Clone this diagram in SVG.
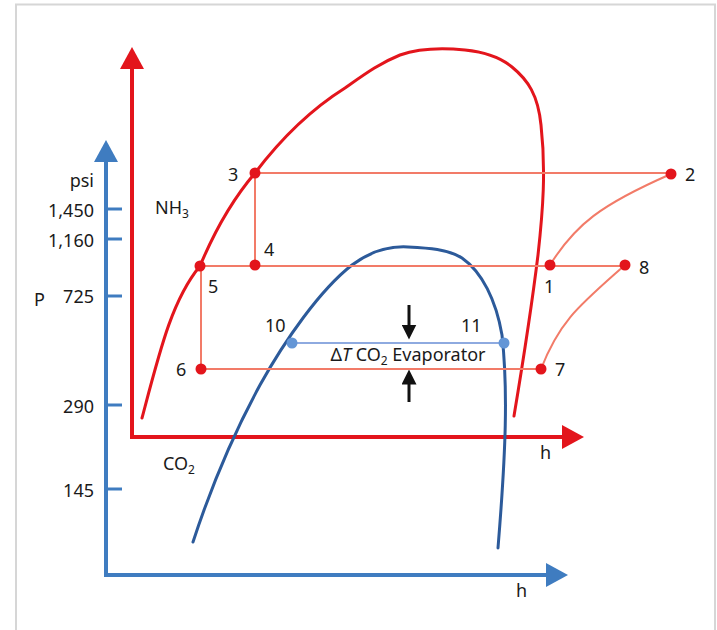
<svg xmlns="http://www.w3.org/2000/svg" width="717" height="630" viewBox="0 0 717 630">
<style>
text{font-family:"Noto Sans","Open Sans",sans-serif;font-size:18px;fill:#1a1a1a}
.ax{fill:none;stroke-width:4}
.red{stroke:#e3151c}
.blue{stroke:#3f7cc0}
.cyc{fill:none;stroke:#f27b68;stroke-width:2}
.dome{fill:none;stroke-width:3;stroke-linecap:round}
.tick{stroke:#3f7cc0;stroke-width:3}
.rdot{fill:#e3151c}
.bdot{fill:#6496d6}
</style>
<defs>
<marker id="ar" markerWidth="6" markerHeight="6" refX="1" refY="3" orient="auto" markerUnits="strokeWidth"><path d="M0,0 L5.5,3 L0,6 Z" fill="#e3151c"/></marker>
<marker id="ab" markerWidth="6" markerHeight="6" refX="1" refY="3" orient="auto" markerUnits="strokeWidth"><path d="M0,0 L5.5,3 L0,6 Z" fill="#3f7cc0"/></marker>
<marker id="ak" markerWidth="5" markerHeight="5" refX="0.5" refY="2.5" orient="auto" markerUnits="strokeWidth"><path d="M0,0 L5,2.5 L0,5 Z" fill="#111"/></marker>
</defs>
<rect x="16" y="4.5" width="699" height="640" fill="#fff" stroke="#d6d6d6" stroke-width="2"/>

<g id="co2-axes">
<path class="ax blue" d="M106,575 V158" marker-end="url(#ab)"/>
<path class="ax blue" d="M104,575 H550" marker-end="url(#ab)"/>
<line class="tick" x1="106" y1="209" x2="122" y2="209"/>
<line class="tick" x1="106" y1="239" x2="122" y2="239"/>
<line class="tick" x1="106" y1="296" x2="122" y2="296"/>
<line class="tick" x1="106" y1="405" x2="122" y2="405"/>
<line class="tick" x1="106" y1="489" x2="122" y2="489"/>
<text x="94" y="187" text-anchor="end">psi</text>
<text x="94" y="217" text-anchor="end">1,450</text>
<text x="94" y="247" text-anchor="end">1,160</text>
<text x="94" y="303" text-anchor="end">725</text>
<text x="94" y="413" text-anchor="end">290</text>
<text x="94" y="497" text-anchor="end">145</text>
<text x="34" y="306">P</text>
<text x="516" y="597">h</text>
<text x="163" y="470">CO<tspan font-size="12" dy="4">2</tspan></text>
</g>

<g id="nh3-axes">
<path class="ax red" d="M132,439 V65" marker-end="url(#ar)"/>
<path class="ax red" d="M130,437 H566" marker-end="url(#ar)"/>
<text x="540" y="459">h</text>
<text x="155" y="214">NH<tspan font-size="12" dy="4">3</tspan></text>
</g>

<g id="co2-dome">
<path class="dome" stroke="#2c5a9a" stroke-width="2.2" d="M193,542 C210,490 230,440 260,385 C285,340 320,290 352,265 C372,250 390,246 408,247 C428,248 448,249 462,258 C482,272 496,300 502,335 C508,390 506,450 498,548"/>
</g>

<g id="nh3-dome">
<path class="dome" stroke="#e3151c" d="M142,418 C160,350 172,300 200,266 C215,230 232,200 255,173 C280,140 310,110 345,88 C365,74 380,63 400,55 C420,48 445,48 465,50 C485,52 500,57 512,67 C528,80 538,95 541,125 C546,170 543,210 538,255 C530,320 520,380 514,416"/>
</g>

<g id="connectors">
<path class="cyc" d="M255,173 H671"/>
<path class="cyc" d="M255,173 V265"/>
<path class="cyc" d="M200,266 H625"/>
<path class="cyc" d="M201,266 V369"/>
<path class="cyc" d="M201,369 H541"/>
<path class="cyc" d="M550,265 C575,225 600,205 671,174"/>
<path class="cyc" d="M541,369 C560,320 580,305 625,265"/>
<path fill="none" stroke="#8eaae0" stroke-width="2" d="M292,343 H504"/>
<path fill="none" stroke="#111" stroke-width="3" d="M409,305 V326" marker-end="url(#ak)"/>
<path fill="none" stroke="#111" stroke-width="3" d="M409,402 V383" marker-end="url(#ak)"/>
</g>

<g id="p1"><circle class="rdot" cx="550" cy="265" r="5.5"/><text x="544" y="293">1</text></g>
<g id="p2"><circle class="rdot" cx="671" cy="174" r="5.5"/><text x="685" y="181">2</text></g>
<g id="p3"><circle class="rdot" cx="255" cy="173" r="5.5"/><text x="228" y="181">3</text></g>
<g id="p4"><circle class="rdot" cx="255" cy="265" r="5.5"/><text x="264" y="256">4</text></g>
<g id="p5"><circle class="rdot" cx="200" cy="266" r="5.5"/><text x="208" y="293">5</text></g>
<g id="p6"><circle class="rdot" cx="201" cy="369" r="5.5"/><text x="176" y="376">6</text></g>
<g id="p7"><circle class="rdot" cx="541" cy="369" r="5.5"/><text x="555" y="376">7</text></g>
<g id="p8"><circle class="rdot" cx="625" cy="265" r="5.5"/><text x="639" y="274">8</text></g>
<g id="p10"><circle class="bdot" cx="292" cy="343" r="5.5"/><text x="265" y="332">10</text></g>
<g id="p11"><circle class="bdot" cx="504" cy="343" r="5.5"/><text x="461" y="332">11</text></g>
<g id="label-dt"><text x="408" y="361" text-anchor="middle">Δ<tspan font-style="italic">T</tspan><tspan> CO</tspan><tspan font-size="12" dy="4">2</tspan><tspan dy="-4"> Evaporator</tspan></text></g>
</svg>
